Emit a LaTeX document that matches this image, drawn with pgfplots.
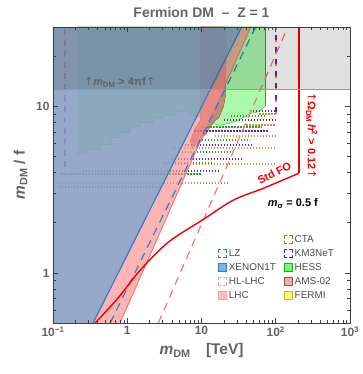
\documentclass[border=0pt]{standalone}
\usepackage{fontspec}
\setmainfont{Liberation Sans}
\newfontfamily\symfont{DejaVu Sans}
\usepackage{pgfplots}
\pgfplotsset{compat=1.18}

\definecolor{labgray}{RGB}{100,100,100}
\definecolor{xenonfill}{RGB}{135,157,192}
\definecolor{blueline}{RGB}{40,130,205}
\definecolor{lhcpink}{RGB}{255,140,140}
\definecolor{lhcline}{RGB}{245,120,120}
\definecolor{hessfill}{RGB}{170,250,170}
\definecolor{hessline}{RGB}{30,170,30}
\definecolor{amsfill}{RGB}{200,120,110}
\definecolor{ctaorange}{RGB}{215,140,60}
\definecolor{kmpurple}{RGB}{120,30,150}
\definecolor{redline}{RGB}{240,0,0}

\newcommand{\up}{{\symfont\mdseries ↑}}
% square legend markers
\newcommand{\legsq}[1]{\addlegendimage{legend image code/.code={\draw[line width=0.8bp,#1] (0bp,-4bp) rectangle (8bp,4bp);}}}
\tikzset{sqdash/.style={dash pattern=on 3bp off 2bp on 6bp off 2bp on 6bp off 2bp on 6bp off 2bp on 3bp}}
\tikzset{dotrow/.style={line width=2bp, dash pattern=on 1.3bp off 1.7bp}}

\begin{document}
\begin{tikzpicture}
\begin{axis}[
    scale only axis,
    width=297bp, height=296bp,
    xmode=log, ymode=log,
    xmin=0.1, xmax=1000, ymin=0.5, ymax=30,
    axis on top,
    axis line style={draw=black!75, line width=0.8bp},
    xtick={0.1,1,10,100,1000},
    xticklabels={10\textsuperscript{−1},1,10,10\textsuperscript{2},10\textsuperscript{3}},
    minor xtick={0.2,0.3,0.4,0.5,0.6,0.7,0.8,0.9,2,3,4,5,6,7,8,9,20,30,40,50,60,70,80,90,200,300,400,500,600,700,800,900},
    ytick={1,10}, yticklabels={1,10},
    minor ytick={0.5,0.6,0.7,0.8,0.9,2,3,4,5,6,7,8,9,20,30},
    tick align=inside,
    major tick length=5bp, minor tick length=3bp,
    tick style={black!75, line width=0.6bp},
    ticklabel style={font=\bfseries\fontsize{12}{14}\selectfont, text=labgray},
    xlabel={\textit{m}\textsubscript{DM}\quad [TeV]},
    ylabel={\textit{m}\textsubscript{DM} / f},
    label style={font=\bfseries\fontsize{15.5}{18}\selectfont, text=labgray},
    ylabel style={yshift=2bp},
    title={Fermion DM~~–~~Z = 1},
    title style={font=\bfseries\fontsize{14}{16}\selectfont, text=labgray},
    legend columns=2,
    legend cell align=left,
    legend style={draw=none, fill=none, at={(0.545,0.31)}, anchor=north west,
        font=\fontsize{10}{11}\selectfont, text=black!70, row sep=1.5bp,
        /tikz/every even column/.append style={column sep=6bp}},
]

% HESS region
\addplot[fill=hessfill, draw=hessline!70!white, line width=0.6bp, forget plot] coordinates {
 (0.218,30) (0.218,5.23) (0.3,5.23) (0.3,5.5) (0.43,5.5) (0.43,5.9) (0.6,5.9) (0.6,6.5)
 (0.8,6.5) (0.8,7.0) (1.1,7.0) (1.1,7.6) (1.5,7.6) (1.5,8.0) (2.2,8.0) (2.2,8.5)
 (3,8.5) (3,8.9) (4.5,8.9) (4.5,9.3) (6.5,9.3) (6.5,9.0) (9.7,8.7) (13,8.0) (17,7.7)
 (23,7.9) (30.6,8.2) (46,9.1) (60,9.3) (73,10.1) (73,30)} -- cycle;
\addplot[hessline, line width=1bp, forget plot] coordinates {(73,10.1) (73,30)};

% AMS-02 region
\addplot[fill=amsfill, fill opacity=0.85, draw=amsfill!80!black, line width=0.5bp, forget plot] coordinates {
 (9.7,30) (9.7,8.25) (8.2,7.4) (7.1,6.26) (7.55,5.6) (8.6,6.0) (9.7,6.09) (10.5,6.6)
 (11.7,6.9) (12.8,7.5) (14.1,7.8) (15.5,8.3) (17,8.5) (18.5,9.3) (19.8,10) (20.5,10.8)
 (21.1,11.6) (21.1,30)} -- cycle;

% CTA rows
\addplot[ctaorange, dotrow, forget plot] coordinates {(0.12,3.45) (23,3.45)};
\addplot[ctaorange, dotrow, forget plot] coordinates {(3,4.5) (100,4.5)};
\addplot[ctaorange, dotrow, forget plot] coordinates {(4,5.6) (100,5.6)};
\addplot[ctaorange, dotrow, forget plot] coordinates {(15,6.6) (100,6.6)};
\addplot[ctaorange, dotrow, forget plot] coordinates {(40,7.7) (100,7.7)};
\addplot[ctaorange, dotrow, forget plot] coordinates {(60,9.0) (100,9.0)};
% HESS points
\addplot[hessline, dotrow, forget plot] coordinates {(0.13,3.9) (10,3.9)};
\addplot[hessline, dotrow, forget plot] coordinates {(3,4.6) (14,4.6)};
\addplot[hessline, dotrow, forget plot] coordinates {(5,5.3) (25,5.3)};
\addplot[hessline, dotrow, forget plot] coordinates {(7,6.3) (45,6.3)};
\addplot[hessline, dotrow, forget plot] coordinates {(10,7.5) (65,7.5)};
\addplot[hessline, dotrow, forget plot] coordinates {(25,8.8) (72,8.8)};
% KM3NeT rows
\addplot[kmpurple, dotrow, forget plot] coordinates {(0.12,3.3) (3,3.3)};
\addplot[kmpurple, dotrow, forget plot] coordinates {(0.25,4.1) (18,4.1)};
\addplot[kmpurple, dotrow, forget plot] coordinates {(4,4.8) (35,4.8)};
\addplot[kmpurple, dotrow, forget plot] coordinates {(6,5.9) (50,5.9)};
\addplot[kmpurple, dotrow, forget plot] coordinates {(8,7.1) (80,7.1)};
\addplot[kmpurple, dotrow, forget plot] coordinates {(20,8.3) (100,8.3)};
\addplot[kmpurple, dotrow, forget plot] coordinates {(45,9.4) (95,9.4)};
\addplot[kmpurple, line width=1.2bp, dash pattern=on 6bp off 5bp, forget plot] coordinates {(0.145,4.3) (0.145,30)};
\addplot[kmpurple, line width=1.6bp, dash pattern=on 7bp off 5bp, forget plot] coordinates {(100,9) (100,30)};
\addplot[ctaorange, line width=1.6bp, dash pattern=on 2bp off 10bp, forget plot] coordinates {(100,9) (100,30)};

% XENON1T excluded region
\addplot[fill=xenonfill, fill opacity=0.88, draw=none, forget plot] coordinates {
 (0.1,0.5) (0.347,0.5) (34.7,30) (0.1,30)} -- cycle;
% LHC band
\addplot[fill=lhcpink, fill opacity=0.65, draw=none, forget plot] coordinates {
 (0.347,0.5) (0.80,0.5) (46,30) (34.7,30)} -- cycle;
\addplot[lhcline, line width=1bp, forget plot] coordinates {(0.80,0.5) (46,30)};
% HL-LHC
\addplot[lhcline, line width=1.2bp, dash pattern=on 8bp off 6bp, forget plot] coordinates {(2.62,0.5) (145,30)};
% XENON1T and LZ
\addplot[blueline, line width=1.2bp, forget plot] coordinates {(0.347,0.5) (34.7,30)};
\addplot[blueline, line width=1.2bp, dash pattern=on 8bp off 6bp, forget plot] coordinates {(0.589,0.5) (53.7,30)};

% standard freeze-out
\addplot[redline, line width=1.4bp, smooth, forget plot] coordinates {
 (0.370,0.5) (0.755,0.708) (1.50,1.04) (3.58,1.53) (10.3,2.08) (27.0,2.74) (68.9,3.23) (205,3.97)};
\addplot[redline, line width=1.4bp, forget plot] coordinates {(205,3.97) (205,30)};

% perturbativity band
\addplot[fill=black, fill opacity=0.12, draw=none, forget plot] coordinates {
 (0.1,12.566) (1000,12.566) (1000,30) (0.1,30)} -- cycle;
\addplot[black!40, line width=1bp, forget plot] coordinates {(0.1,12.566) (1000,12.566)};

\node[anchor=base west, text=black!62, font=\bfseries\fontsize{11}{13}\selectfont] at (axis cs:0.235,13.3) {\up\textit{m}\textsubscript{DM} > 4πf\up};
\node[rotate=-90, text=redline, font=\bfseries\fontsize{11}{13}\selectfont, inner sep=0pt] at (axis cs:305,6.7) {\up Ω\textsubscript{DM}\,\textit{h}\textsuperscript{2} > 0.12\up};
\node[rotate=27, text=redline, font=\bfseries\fontsize{11}{13}\selectfont, inner sep=0pt] at (axis cs:96,3.98) {Std FO};
\node[text=black, font=\bfseries\fontsize{11}{13}\selectfont, inner sep=0pt] at (axis cs:170,2.6) {\textit{m}\textsubscript{σ} = 0.5 f};

% legend
\addlegendimage{empty legend}\addlegendentry{}
\legsq{draw=ctaorange!85!black, sqdash}\addlegendentry{CTA}
\legsq{draw=blueline, sqdash}\addlegendentry{LZ}
\legsq{draw=kmpurple, sqdash}\addlegendentry{KM3NeT}
\legsq{draw=blueline, fill=blueline!60!white}\addlegendentry{XENON1T}
\legsq{draw=hessline, fill=green!55!white}\addlegendentry{HESS}
\legsq{draw=lhcline!70!white, sqdash}\addlegendentry{HL-LHC}
\legsq{draw=amsfill!70!black, fill=amsfill!55!white}\addlegendentry{AMS-02}
\legsq{draw=lhcline!70!white, fill=lhcpink!55!white}\addlegendentry{LHC}
\legsq{draw=yellow!75!black, fill=yellow!60!white}\addlegendentry{FERMI}
\end{axis}
\pgfresetboundingbox
\path ([shift={(-53bp,-51bp)}]current axis.south west) rectangle ([shift={(13bp,27bp)}]current axis.north east);
\end{tikzpicture}
\end{document}
